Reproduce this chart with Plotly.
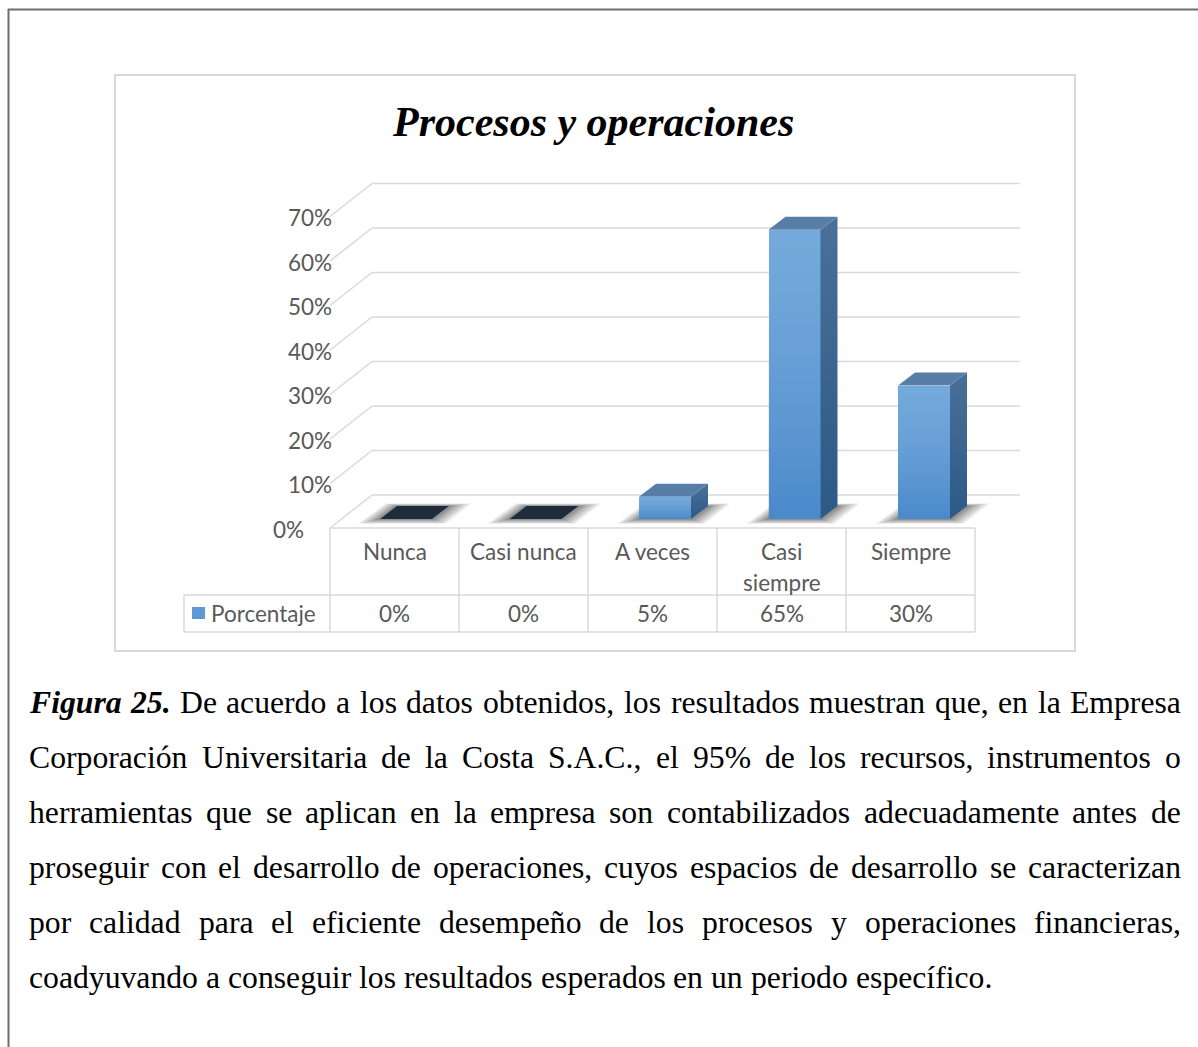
import plotly.graph_objects as go

W, H = 1198, 1047

# ---- data ----
categories = ["Nunca", "Casi nunca", "A veces", "Casi siempre", "Siempre"]
values = [0, 0, 5, 65, 30]
value_text = ["0%", "0%", "5%", "65%", "30%"]
y_ticks = [0, 10, 20, 30, 40, 50, 60, 70]
series_name = "Porcentaje"
title_text = "Procesos y operaciones"

caption_lead = ["Figura", "25."]
caption_lines = [
    "De acuerdo a los datos obtenidos, los resultados muestran que, en la Empresa",
    "Corporación Universitaria de la Costa S.A.C., el 95% de los recursos, instrumentos o",
    "herramientas que se aplican en la empresa son contabilizados adecuadamente antes de",
    "proseguir con el desarrollo de operaciones, cuyos espacios de desarrollo se caracterizan",
    "por calidad para el eficiente desempeño de los procesos y operaciones financieras,",
    "coadyuvando a conseguir los resultados esperados en un periodo específico.",
]

# ---- geometry (screen px -> axis units) ----
PX0, PXU = 406, 129.5   # screen x of first bar centre, px per category
PY0, PYU = 519, 4.45    # screen y of 0 %, px per percentage point


def xd(px):
    return (px - PX0) / PXU


def yd(py):
    return (PY0 - py) / PYU


def path(pts):
    return "M " + " L ".join(f"{x},{y}" for x, y in pts) + " Z"


HW = 26 / PXU                # half bar width
BDX, BDY = 17 / PXU, 13 / PYU  # bar depth
FRONT, BACK = yd(528), yd(495)  # floor front / back wall, relative to bar plane
GRID = "#d9d9d9"
TXT = "#595959"
CAL = "Lato"
CFS = 22.5

n = len(categories)
idx = list(range(n))

fig = go.Figure()
shapes = []
ann = []

# walls + gridlines
for t in y_ticks:
    shapes.append(dict(type="line", xref="x", yref="y", layer="below",
                       x0=xd(372), y0=t + BACK, x1=xd(1020), y1=t + BACK,
                       line=dict(color=GRID, width=1.5)))
    shapes.append(dict(type="line", xref="x", yref="y", layer="below",
                       x0=xd(330), y0=t + FRONT, x1=xd(372), y1=t + BACK,
                       line=dict(color=GRID, width=1.5)))
    ann.append(dict(x=xd(306 if t == 0 else 334), y=t + FRONT - 1 / PYU, xref="x", yref="y",
                    text=f"{t}%", showarrow=False, xanchor="right", yanchor="middle",
                    font=dict(family=CAL, size=CFS, color=TXT)))

# soft shadows under the bars
for i in idx:
    for e in [22, 18, 14, 10, 7, 4]:
        ex, ey = e / PXU, e * 0.22 / PYU
        pts = [(i - HW - ex, -ey), (i + HW + ex * 0.6, -ey),
               (i + HW + BDX + ex, BDY + ey * 0.5), (i - HW + BDX - ex * 0.5, BDY + ey * 0.5)]
        shapes.append(dict(type="path", xref="x", yref="y", layer="below",
                           path=path(pts), fillcolor="rgba(0,0,0,0.085)", line=dict(width=0)))

# front faces
fig.add_trace(go.Bar(x=idx, y=values, width=2 * HW, name=series_name,
                     marker=dict(color="#5b9bd5", line=dict(width=0)), hoverinfo="skip"))

# shading of front faces, side and top faces
for i, v in zip(idx, values):
    if v > 0:
        front = [(i - HW, 0), (i + HW, 0), (i + HW, v), (i - HW, v), (i - HW, 0)]
        fig.add_trace(go.Scatter(x=[p[0] for p in front], y=[p[1] for p in front], fill="toself",
                                 mode="lines", line=dict(width=0),
                                 fillgradient=dict(type="vertical", colorscale=[
                                     [0, "rgba(20,80,170,0.25)"], [1, "rgba(255,255,255,0.15)"]]),
                                 hoverinfo="skip"))
        side = [(i + HW, 0), (i + HW + BDX, BDY), (i + HW + BDX, v + BDY), (i + HW, v), (i + HW, 0)]
        fig.add_trace(go.Scatter(x=[p[0] for p in side], y=[p[1] for p in side], fill="toself",
                                 mode="lines", line=dict(width=0),
                                 fillgradient=dict(type="vertical", colorscale=[
                                     [0, "#2c5987"], [1, "#4a7099"]]),
                                 hoverinfo="skip"))
    top = [(i - HW, v), (i + HW, v), (i + HW + BDX, v + BDY), (i - HW + BDX, v + BDY), (i - HW, v)]
    fig.add_trace(go.Scatter(x=[p[0] for p in top], y=[p[1] for p in top], fill="toself",
                             mode="lines", line=dict(width=0),
                             fillcolor="#587ea8" if v > 0 else "#1f2c3c", hoverinfo="skip"))

# data table under the plot
col_w = 129 / PXU
edges = [xd(330) + k * col_w for k in range(n + 1)]
r0, r1, r2 = yd(528), yd(595), yd(632)
shapes.append(dict(type="line", xref="x", yref="y", x0=edges[0], x1=edges[-1], y0=r0, y1=r0,
                   line=dict(color=GRID, width=1.5)))
for r in (r1, r2):
    shapes.append(dict(type="line", xref="x", yref="y", x0=xd(184), x1=edges[-1], y0=r, y1=r,
                       line=dict(color=GRID, width=1.5)))
for ex in edges:
    shapes.append(dict(type="line", xref="x", yref="y", x0=ex, x1=ex, y0=r0, y1=r2,
                       line=dict(color=GRID, width=1.5)))
shapes.append(dict(type="line", xref="x", yref="y", x0=xd(184), x1=xd(184), y0=r1, y1=r2,
                   line=dict(color=GRID, width=1.5)))
shapes.append(dict(type="rect", xref="x", yref="y", x0=xd(192), x1=xd(205), y0=yd(607), y1=yd(619),
                   fillcolor="#5b9bd5", line=dict(width=0)))
ann.append(dict(x=xd(209), y=yd(613), xref="x", yref="y", text=series_name, showarrow=False,
                xanchor="left", yanchor="middle", font=dict(family=CAL, size=CFS, color=TXT)))
for k, (c, vt) in enumerate(zip(categories, value_text)):
    cx = (edges[k] + edges[k + 1]) / 2
    words = c.split(" ")
    lines = [c] if len(c) <= 10 else [" ".join(words[:-1]), words[-1]]
    for j, ln in enumerate(lines):
        ann.append(dict(x=cx, y=yd(551 + 31 * j), xref="x", yref="y", text=ln, showarrow=False,
                        xanchor="center", yanchor="middle", font=dict(family=CAL, size=CFS, color=TXT)))
    ann.append(dict(x=cx, y=yd(613), xref="x", yref="y", text=vt, showarrow=False,
                    xanchor="center", yanchor="middle", font=dict(family=CAL, size=CFS, color=TXT)))

# title
ann.append(dict(x=593 / W, y=1 - 122 / H, xref="paper", yref="paper",
                text=f"<b><i>{title_text}</i></b>", showarrow=False,
                xanchor="center", yanchor="middle",
                font=dict(family="Liberation Serif", size=42, color="#000000")))

# frames
shapes.append(dict(type="rect", xref="paper", yref="paper", x0=115 / W, x1=1075 / W,
                   y0=1 - 651 / H, y1=1 - 75 / H, line=dict(color=GRID, width=2)))
shapes.append(dict(type="line", xref="paper", yref="paper", x0=8 / W, x1=1.0,
                   y0=1 - 9.5 / H, y1=1 - 9.5 / H, line=dict(color="#6e6e6e", width=2)))
shapes.append(dict(type="line", xref="paper", yref="paper", x0=8.5 / W, x1=8.5 / W,
                   y0=1 - 9 / H, y1=0, line=dict(color="#6e6e6e", width=2)))

# caption, justified with Times metrics (Liberation Serif is metric compatible)
TR = dict(zip("abcdefghijklmnopqrstuvwxyz",
              [444, 500, 444, 500, 444, 333, 500, 500, 278, 278, 500, 278, 778,
               500, 500, 500, 500, 333, 389, 278, 500, 500, 722, 500, 500, 444]))
TR.update({"A": 722, "C": 667, "D": 722, "E": 611, "S": 556, "U": 722, "%": 833,
           ",": 250, ".": 250, "á": 444, "é": 444, "í": 278, "ó": 500, "ú": 500, "ñ": 500})
TR.update({d: 500 for d in "0123456789"})
BI = {"F": 667, "i": 278, "g": 500, "u": 556, "r": 389, "a": 500, "2": 500, "5": 500, ".": 250}

FS = 31.7
LEFT, RIGHT = 28, 1180
for li, line in enumerate(caption_lines):
    words = [(w, True) for w in caption_lead] if li == 0 else []
    words += [(w, False) for w in line.split(" ")]
    widths = [sum((BI if b else TR)[ch] for ch in w) * FS / 1000 for w, b in words]
    if li < len(caption_lines) - 1:
        gap = (RIGHT - LEFT - sum(widths)) / (len(words) - 1)
    else:
        gap = 250 * FS / 1000
    x = LEFT
    yc = 1 - (702 + 55 * li) / H
    for (w, b), wd in zip(words, widths):
        ann.append(dict(x=(x - 1) / W, y=yc, xref="paper", yref="paper",
                        text=f"<b><i>{w}</i></b>" if b else w, showarrow=False,
                        xanchor="left", yanchor="middle",
                        font=dict(family="Liberation Serif", size=FS, color="#000000")))
        x += wd + gap

fig.update_layout(
    width=W, height=H, autosize=False,
    margin=dict(l=0, r=0, t=0, b=0),
    plot_bgcolor="white", paper_bgcolor="white",
    showlegend=False, bargap=0,
    xaxis=dict(range=[xd(0), xd(W)], visible=False, fixedrange=True),
    yaxis=dict(range=[yd(H), yd(0)], visible=False, fixedrange=True),
    shapes=shapes, annotations=ann,
)

# the page body has a default 8px margin; drop it so the figure fills the window
fig.write_html("out.html", config={"displayModeBar": False},
               post_script="document.body.style.margin='0';")
